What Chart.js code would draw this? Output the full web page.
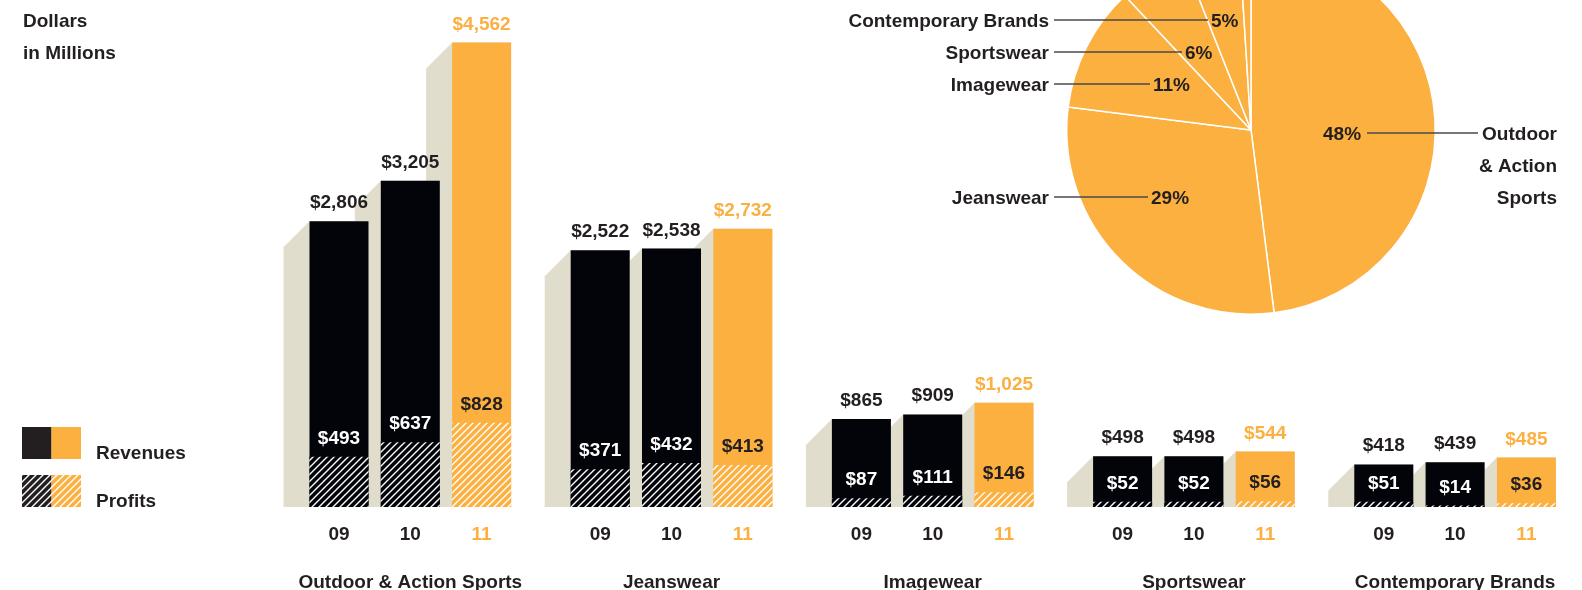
<!DOCTYPE html>
<html>
<head>
<meta charset="utf-8">
<title>Revenues and Profits by Coalition</title>
<script src="https://cdn.jsdelivr.net/npm/chart.js@4.4.1/dist/chart.umd.min.js"></script>
<style>
  html, body { margin: 0; padding: 0; background: #fff; overflow: hidden; }
  body { width: 1582px; height: 590px; position: relative; }
  #barWrap { position: absolute; left: 0; top: 0; width: 1600px; height: 590px; }
  #pieWrap { position: absolute; left: 830px; top: -60px; width: 752px; height: 380px; }
</style>
</head>
<body>
<div id="barWrap"><canvas id="bars"></canvas></div>
<div id="pieWrap"><canvas id="pie"></canvas></div>
<script>
// coalitions and fiscal years
const segments = ["Outdoor & Action Sports", "Jeanswear", "Imagewear", "Sportswear", "Contemporary Brands"];
const years = ["09", "10", "11"];

// revenues, $ millions
const revenues09 = [2806, 2522, 865, 498, 418];
const revenues10 = [3205, 2538, 909, 498, 439];
const revenues11 = [4562, 2732, 1025, 544, 485];

// profits, $ millions
const profits09 = [493, 371, 87, 52, 51];
const profits10 = [637, 432, 111, 52, 14];
const profits11 = [828, 413, 146, 56, 36];

// 2011 revenue share, percent
const pieNames = ["Outdoor & Action Sports", "Jeanswear", "Imagewear", "Sportswear", "Contemporary Brands", "Other"];
const pieShares = [48, 29, 11, 6, 5, 1];

const FONT = '"Liberation Sans", Arial, sans-serif';
const DARK = "#231f20";
const BLACK = "#03040a";
const ORANGE = "#fbb040";
const GREY = "#e1ddcc";
const DEPTH = 26;

function font(size) {
  return "bold " + size + "px " + FONT;
}

function hatch(bg) {
  const s = 7;
  const c = document.createElement("canvas");
  c.width = s;
  c.height = s;
  const g = c.getContext("2d");
  g.fillStyle = bg;
  g.fillRect(0, 0, s, s);
  g.strokeStyle = "#fff";
  g.lineWidth = 1.4;
  g.beginPath();
  g.moveTo(-1, s + 1); g.lineTo(s + 1, -1);
  g.moveTo(-1, 1); g.lineTo(1, -1);
  g.moveTo(s - 1, s + 1); g.lineTo(s + 1, s - 1);
  g.stroke();
  return g.createPattern(c, "repeat");
}

const hatchBlack = hatch(BLACK);
const hatchOrange = hatch(ORANGE);
const hatchLegend = hatch(DARK);

const yearColor = [BLACK, BLACK, ORANGE];
const yearHatch = [hatchBlack, hatchBlack, hatchOrange];
const revenueSets = [revenues09, revenues10, revenues11];
const profitSets = [profits09, profits10, profits11];

const barDatasets = [];
years.forEach((yr, i) => {
  barDatasets.push({ label: "Profits " + yr, kind: "profit", year: i, data: profitSets[i], stack: yr, order: 0, backgroundColor: yearHatch[i] });
});
years.forEach((yr, i) => {
  barDatasets.push({ label: "Revenues " + yr, kind: "revenue", year: i, data: revenueSets[i], stack: yr, order: 1, backgroundColor: yearColor[i] });
});

// grey extrusion behind every revenue bar
const depthPlugin = {
  id: "depth",
  beforeDatasetsDraw(chart) {
    const ctx = chart.ctx;
    const base = chart.scales.y.getPixelForValue(0);
    ctx.save();
    ctx.fillStyle = GREY;
    chart.data.datasets.forEach((ds, i) => {
      if (ds.kind !== "revenue") return;
      chart.getDatasetMeta(i).data.forEach((bar) => {
        const l = bar.x - bar.width / 2;
        const r = bar.x + bar.width / 2;
        ctx.beginPath();
        ctx.moveTo(l - DEPTH, base);
        ctx.lineTo(l - DEPTH, bar.y + DEPTH);
        ctx.lineTo(l, bar.y);
        ctx.lineTo(r, bar.y);
        ctx.lineTo(r, base);
        ctx.closePath();
        ctx.fill();
      });
    });
    ctx.restore();
  }
};

const textPlugin = {
  id: "texts",
  afterDatasetsDraw(chart) {
    const ctx = chart.ctx;
    const base = chart.scales.y.getPixelForValue(0);
    ctx.save();
    ctx.font = font(19);
    ctx.textAlign = "center";
    ctx.textBaseline = "alphabetic";

    chart.data.datasets.forEach((ds, i) => {
      const meta = chart.getDatasetMeta(i);
      meta.data.forEach((bar, j) => {
        const txt = "$" + ds.data[j].toLocaleString("en-US");
        if (ds.kind === "revenue") {
          ctx.fillStyle = ds.year === 2 ? ORANGE : DARK;
          ctx.fillText(txt, bar.x, bar.y - 13);
          ctx.fillStyle = ds.year === 2 ? ORANGE : DARK;
          ctx.fillText(years[ds.year], bar.x, base + 33);
        } else {
          ctx.fillStyle = ds.year === 2 ? DARK : "#fff";
          ctx.fillText(txt, bar.x, bar.y - 13);
        }
      });
    });

    // coalition names under each group
    ctx.fillStyle = DARK;
    segments.forEach((name, i) => {
      ctx.fillText(name, chart.scales.x.getPixelForValue(i), base + 81);
    });

    // unit note and legend
    ctx.textAlign = "left";
    ctx.fillText("Dollars", 23, 27);
    ctx.fillText("in Millions", 23, 59);

    ctx.fillStyle = DARK;
    ctx.fillRect(22, 427, 29.5, 32);
    ctx.fillStyle = ORANGE;
    ctx.fillRect(51.5, 427, 29.5, 32);
    ctx.fillStyle = hatchLegend;
    ctx.fillRect(22, 475, 29.5, 32);
    ctx.fillStyle = hatchOrange;
    ctx.fillRect(51.5, 475, 29.5, 32);

    ctx.fillStyle = DARK;
    ctx.fillText("Revenues", 96, 458.5);
    ctx.fillText("Profits", 96, 507);
    ctx.restore();
  }
};

new Chart(document.getElementById("bars"), {
  type: "bar",
  data: { labels: segments, datasets: barDatasets },
  options: {
    responsive: true,
    maintainAspectRatio: false,
    animation: false,
    layout: { padding: { left: 279.7, right: 14.3, top: 0, bottom: 83 } },
    datasets: { bar: { categoryPercentage: 0.819, barPercentage: 0.8275, borderWidth: 0 } },
    scales: {
      x: { display: false },
      y: { display: false, stacked: false, min: 0, max: 4980 }
    },
    plugins: { legend: { display: false }, tooltip: { enabled: false } }
  },
  plugins: [depthPlugin, textPlugin]
});

// callout layout around the pie, offsets from its centre
const callouts = [
  { slice: 4, row: -110, pctX: -40, lines: ["Contemporary Brands"] },
  { slice: 3, row: -78, pctX: -66, lines: ["Sportswear"] },
  { slice: 2, row: -46, pctX: -98, lines: ["Imagewear"] },
  { slice: 1, row: 67, pctX: -100, lines: ["Jeanswear"] }
];

const calloutPlugin = {
  id: "callouts",
  afterDraw(chart) {
    const ctx = chart.ctx;
    const arc = chart.getDatasetMeta(0).data[0];
    const cx = arc.x;
    const cy = arc.y;
    const shares = chart.data.datasets[0].data;
    ctx.save();
    ctx.font = font(19);
    ctx.fillStyle = DARK;
    ctx.strokeStyle = "#4a4a4a";
    ctx.lineWidth = 1.3;
    ctx.textBaseline = "alphabetic";

    callouts.forEach((c) => {
      const y = cy + c.row;
      ctx.beginPath();
      ctx.moveTo(cx - 197, y);
      ctx.lineTo(cx + c.pctX - 3, y);
      ctx.stroke();
      ctx.textAlign = "right";
      ctx.fillText(c.lines[0], cx - 202, y + 7);
      ctx.textAlign = "left";
      ctx.fillText(shares[c.slice] + "%", cx + c.pctX, y + 7);
    });

    // largest slice, labelled on the right
    const y0 = cy + 3;
    ctx.beginPath();
    ctx.moveTo(cx + 116, y0);
    ctx.lineTo(cx + 227, y0);
    ctx.stroke();
    ctx.textAlign = "left";
    ctx.fillText(shares[0] + "%", cx + 72, y0 + 7);
    ctx.textAlign = "right";
    ["Outdoor", "& Action", "Sports"].forEach((t, k) => {
      ctx.fillText(t, cx + 306, y0 + 7 + k * 32);
    });
    ctx.restore();
  }
};

new Chart(document.getElementById("pie"), {
  type: "pie",
  data: {
    labels: pieNames,
    datasets: [{ data: pieShares, backgroundColor: ORANGE, borderColor: "#fff", borderWidth: 1.5 }]
  },
  options: {
    responsive: true,
    maintainAspectRatio: false,
    animation: false,
    layout: { padding: { left: 236, right: 146, top: 5, bottom: 5 } },
    plugins: { legend: { display: false }, tooltip: { enabled: false } }
  },
  plugins: [calloutPlugin]
});
</script>
</body>
</html>
